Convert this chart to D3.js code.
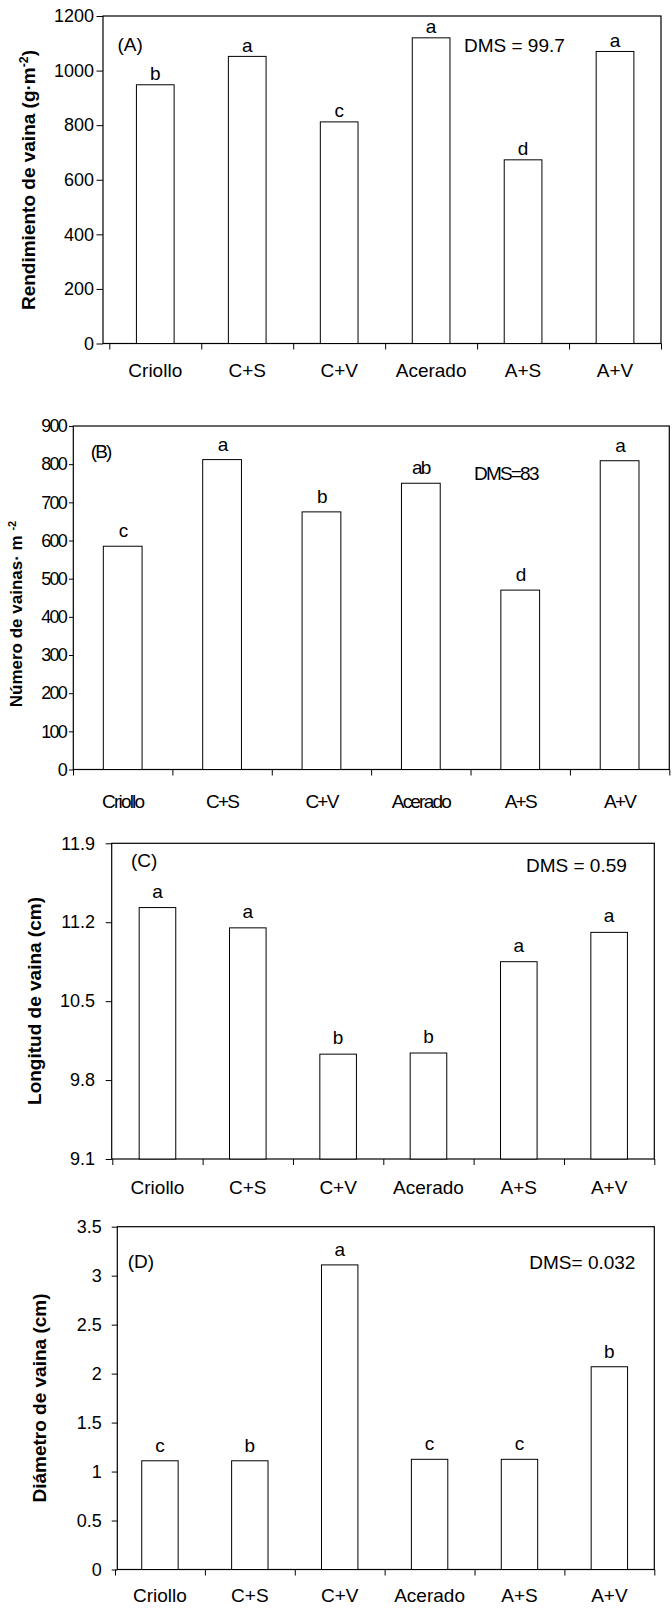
<!DOCTYPE html>
<html>
<head>
<meta charset="utf-8">
<script src="https://cdn.jsdelivr.net/npm/d3@7"></script>
<style>
  body { margin: 0; background: #fff; }
  svg text { font-family: "Liberation Sans", Arial, sans-serif; fill: #000; }
  .tick line { stroke: #000; }
</style>
</head>
<body>
<div id="chart"></div>
<script>
// shared categories
var categories = ["Criollo", "C+S", "C+V", "Acerado", "A+S", "A+V"];

// (A) rendimiento de vaina
var rendimiento = [948, 1052, 812, 1120, 673, 1070];
var rendimientoLetters = ["b", "a", "c", "a", "d", "a"];
var rendimientoTicks = [0, 200, 400, 600, 800, 1000, 1200];

// (B) numero de vainas
var vainas = [585, 812, 675, 750, 470, 809];
var vainasLetters = ["c", "a", "b", "ab", "d", "a"];
var vainasTicks = [0, 100, 200, 300, 400, 500, 600, 700, 800, 900];

// (C) longitud de vaina
var longitud = [11.33, 11.15, 10.03, 10.04, 10.85, 11.11];
var longitudLetters = ["a", "a", "b", "b", "a", "a"];
var longitudTicks = [9.1, 9.8, 10.5, 11.2, 11.9];

// (D) diametro de vaina
var diametro = [1.11, 1.11, 3.11, 1.125, 1.125, 2.07];
var diametroLetters = ["c", "b", "a", "c", "c", "b"];
var diametroTicks = [0, 0.5, 1, 1.5, 2, 2.5, 3, 3.5];

var svg = d3.select("#chart")
  .append("svg")
  .attr("width", 672)
  .attr("height", 1608);

// one panel = frame + bars + letters + axes
function drawPanel(p) {
  var g = svg.append("g");
  var spacing = p.narrow ? "-1.8px" : "0px";

  var y = d3.scaleLinear()
    .domain([p.ticks[0], p.ticks[p.ticks.length - 1]])
    .range([p.bottom, p.top]);

  var x = d3.scaleBand()
    .domain(categories)
    .range([p.bandStart, p.right])
    .paddingInner(p.pad)
    .paddingOuter(p.pad / 2);

  var edges = d3.scaleLinear()
    .domain([0, categories.length])
    .range([p.bandStart, p.right]);

  // frame
  g.append("rect")
    .attr("x", p.axisX)
    .attr("y", p.top)
    .attr("width", p.right - p.axisX)
    .attr("height", p.bottom - p.top)
    .attr("fill", "none")
    .attr("stroke", "#000")
    .attr("stroke-width", 1.2);

  // bars
  g.selectAll("rect.bar")
    .data(p.values)
    .enter()
    .append("rect")
    .attr("class", "bar")
    .attr("x", (d, i) => x(categories[i]))
    .attr("y", d => y(d))
    .attr("width", x.bandwidth())
    .attr("height", d => p.bottom - y(d))
    .attr("fill", "#fff")
    .attr("stroke", "#000")
    .attr("stroke-width", 1);

  // letters above bars
  g.selectAll("text.letter")
    .data(p.values)
    .enter()
    .append("text")
    .attr("class", "letter")
    .attr("x", (d, i) => x(categories[i]) + x.bandwidth() / 2)
    .attr("y", d => y(d) - p.letterGap)
    .attr("text-anchor", "middle")
    .attr("font-size", "19px")
    .attr("letter-spacing", spacing)
    .text((d, i) => p.letters[i]);

  // y axis
  var yAxis = d3.axisLeft(y)
    .tickValues(p.ticks)
    .tickSize(p.tickLen)
    .tickPadding(p.tickPad)
    .tickFormat(p.format);

  g.append("g")
    .attr("transform", `translate(${p.axisX}, 0)`)
    .call(yAxis)
    .call(a => a.select(".domain").remove())
    .selectAll("text")
    .attr("font-size", "18px")
    .attr("letter-spacing", spacing);

  // category boundary ticks
  g.append("g")
    .attr("transform", `translate(0, ${p.bottom})`)
    .call(d3.axisBottom(edges).tickValues(d3.range(categories.length + 1)).tickSize(6).tickFormat(""))
    .call(a => a.select(".domain").remove());

  // category labels
  g.append("g")
    .attr("transform", `translate(0, ${p.bottom})`)
    .call(d3.axisBottom(x).tickSize(0).tickPadding(p.labelPad))
    .call(a => a.select(".domain").remove())
    .selectAll("text")
    .attr("font-size", "19px")
    .attr("letter-spacing", spacing);

  // panel tag and DMS
  g.append("text")
    .attr("x", p.tagX)
    .attr("y", p.tagY)
    .attr("font-size", "19px")
    .attr("letter-spacing", spacing)
    .text(p.tag);

  g.append("text")
    .attr("x", p.dmsX)
    .attr("y", p.dmsY)
    .attr("font-size", "19px")
    .attr("letter-spacing", spacing)
    .text(p.dms);

  // y title
  var title = g.append("text")
    .attr("transform", `translate(${p.titleX}, ${p.titleY}) rotate(-90)`)
    .attr("text-anchor", "middle")
    .attr("dy", "0.35em")
    .attr("font-weight", "bold")
    .attr("font-size", p.titleSize);
  title.append("tspan").text(p.title[0]);
  title.append("tspan")
    .attr("baseline-shift", "super")
    .attr("font-size", "0.65em")
    .text(p.title[1]);
  if (p.title[2]) title.append("tspan").text(p.title[2]);
}

drawPanel({
  values: rendimiento, letters: rendimientoLetters, ticks: rendimientoTicks,
  format: d3.format("d"),
  top: 16, bottom: 343.5, axisX: 103, bandStart: 109.3, right: 661, pad: 0.59,
  tickLen: 6.5, tickPad: 2.5, labelPad: 20, letterGap: 4.5,
  tag: "(A)", tagX: 117.5, tagY: 51, dms: "DMS = 99.7", dmsX: 464, dmsY: 51.5,
  title: ["Rendimiento de vaina (g\u00b7m", "-2", ")"], titleX: 28, titleY: 180, titleSize: "19px"
});

drawPanel({
  narrow: true,
  values: vainas, letters: vainasLetters, ticks: vainasTicks,
  format: d3.format("d"),
  top: 426, bottom: 769.5, axisX: 73.3, bandStart: 73, right: 669.3, pad: 0.61,
  tickLen: 4.3, tickPad: 3, labelPad: 25, letterGap: 9,
  tag: "(B)", tagX: 90.7, tagY: 458, dms: "DMS=83", dmsX: 474, dmsY: 479.5,
  title: ["N\u00famero de vainas\u00b7 m ", "-2"], titleX: 16, titleY: 614, titleSize: "17px"
});

drawPanel({
  values: longitud, letters: longitudLetters, ticks: longitudTicks,
  format: d3.format(".1f"),
  top: 843.3, bottom: 1159, axisX: 111.7, bandStart: 112.3, right: 654.3, pad: 0.595,
  tickLen: 6, tickPad: 10.7, labelPad: 21.6, letterGap: 10,
  tag: "(C)", tagX: 131, tagY: 866.5, dms: "DMS = 0.59", dmsX: 526, dmsY: 871.5,
  title: ["Longitud de vaina (cm)", ""], titleX: 34, titleY: 1001, titleSize: "19px"
});

drawPanel({
  values: diametro, letters: diametroLetters, ticks: diametroTicks,
  format: d => d,
  top: 1226.7, bottom: 1569.5, axisX: 117.3, bandStart: 115, right: 654.3, pad: 0.595,
  tickLen: 5.6, tickPad: 10, labelPad: 19, letterGap: 9,
  tag: "(D)", tagX: 127.7, tagY: 1268, dms: "DMS= 0.032", dmsX: 529.3, dmsY: 1269,
  title: ["Di\u00e1metro de vaina (cm)", ""], titleX: 39, titleY: 1398, titleSize: "19px"
});
</script>
</body>
</html>
